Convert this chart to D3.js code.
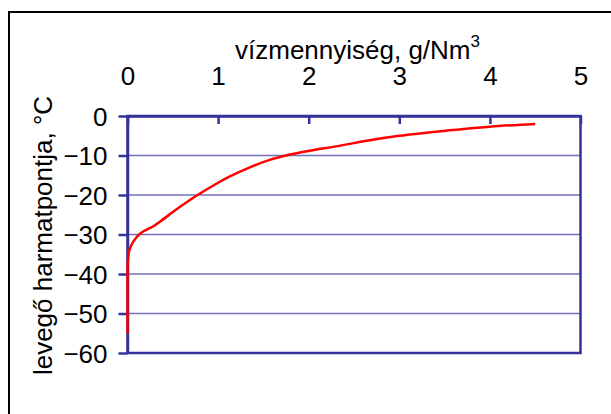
<!DOCTYPE html>
<html>
<head>
<meta charset="utf-8">
<script src="https://cdn.jsdelivr.net/npm/d3@7"></script>
<style>
  body { margin: 0; background: #fff; }
  svg { display: block; font-family: "Liberation Sans", Arial, sans-serif; }
</style>
</head>
<body>
<div id="chart"></div>
<script>
// water content (g/Nm3) against dew point of air (°C)
var waterContent = [0, 0, 0, 0.003, 0.02, 0.064, 0.138, 0.285, 0.36, 0.58, 0.76, 1.0, 1.13, 1.35, 1.57, 1.76, 2.01, 2.35, 2.64, 3.0, 3.52, 4.0, 4.5];
var dewPoint     = [-55, -45, -40, -37, -34, -31.8, -29.8, -27.9, -26.7, -23.0, -20.2, -16.9, -15.3, -13.0, -11.1, -9.95, -8.8, -7.5, -6.25, -5.0, -3.7, -2.7, -2.0];
var xTicks = [0, 1, 2, 3, 4, 5];
var yTicks = [0, -10, -20, -30, -40, -50, -60];
var xTitle = "vízmennyiség, g/Nm";
var yTitle = "levegő harmatpontja, °C";

var W = 611, H = 414;
var plotLeft = 127.5, plotRight = 580.5, plotTop = 116, plotBottom = 353;
var axisColor = "#333399";

var svg = d3.select("#chart").append("svg")
    .attr("width", W).attr("height", H);

// outer frame, runs off the right and bottom edges
svg.append("rect")
    .attr("x", 9).attr("y", 12)
    .attr("width", 700).attr("height", 500)
    .attr("fill", "none").attr("stroke", "#000").attr("stroke-width", 2);

var x = d3.scaleLinear().domain([0, 5]).range([plotLeft, plotRight]);
var y = d3.scaleLinear().domain([-60, 0]).range([plotBottom, plotTop]);

// gridlines
svg.append("g").selectAll("line")
    .data(yTicks.filter(function (d) { return d !== 0 && d !== -60; }))
    .enter().append("line")
    .attr("x1", plotLeft).attr("x2", plotRight)
    .attr("y1", function (d) { return y(d); })
    .attr("y2", function (d) { return y(d); })
    .attr("stroke", "#7272b8").attr("stroke-width", 1.5);

// plot frame
svg.append("rect")
    .attr("x", plotLeft).attr("y", plotTop)
    .attr("width", plotRight - plotLeft).attr("height", plotBottom - plotTop)
    .attr("fill", "none").attr("stroke", axisColor).attr("stroke-width", 2.5);

// axes
var xAxis = svg.append("g")
    .attr("transform", "translate(0," + plotTop + ")")
    .call(d3.axisTop(x).tickValues(xTicks).tickFormat(d3.format("d"))
        .tickSize(-8).tickPadding(31).tickSizeOuter(0));
var yAxis = svg.append("g")
    .attr("transform", "translate(" + plotLeft + ",0)")
    .call(d3.axisLeft(y).tickValues(yTicks).tickFormat(d3.format("d"))
        .tickSize(9).tickPadding(11).tickSizeOuter(0));

[xAxis, yAxis].forEach(function (a) {
    a.select(".domain").attr("stroke", axisColor).attr("stroke-width", 2.5);
    a.selectAll(".tick line").attr("stroke", axisColor).attr("stroke-width", 2.5);
    a.selectAll(".tick text")
        .attr("fill", "#000")
        .style("font-size", "26px")
        .style("font-family", "'Liberation Sans', Arial, sans-serif");
});
yAxis.selectAll(".tick text").attr("dy", "0.36em");

// curve
var line = d3.line()
    .x(function (d) { return x(d[0]); })
    .y(function (d) { return y(d[1]); })
    .curve(d3.curveCatmullRom.alpha(0.5));

svg.append("path")
    .datum(d3.zip(waterContent, dewPoint))
    .attr("d", line)
    .attr("fill", "none")
    .attr("stroke", "#ff0000")
    .attr("stroke-width", 2.5);

// titles
var xt = svg.append("text")
    .attr("x", 357.5).attr("y", 59)
    .attr("text-anchor", "middle")
    .style("font-size", "26px");
xt.append("tspan").text(xTitle);
xt.append("tspan").attr("dy", -12).style("font-size", "17px").text("3");

svg.append("text")
    .attr("transform", "translate(52,235.5) rotate(-90)")
    .attr("text-anchor", "middle")
    .style("font-size", "26px")
    .text(yTitle);
</script>
</body>
</html>
